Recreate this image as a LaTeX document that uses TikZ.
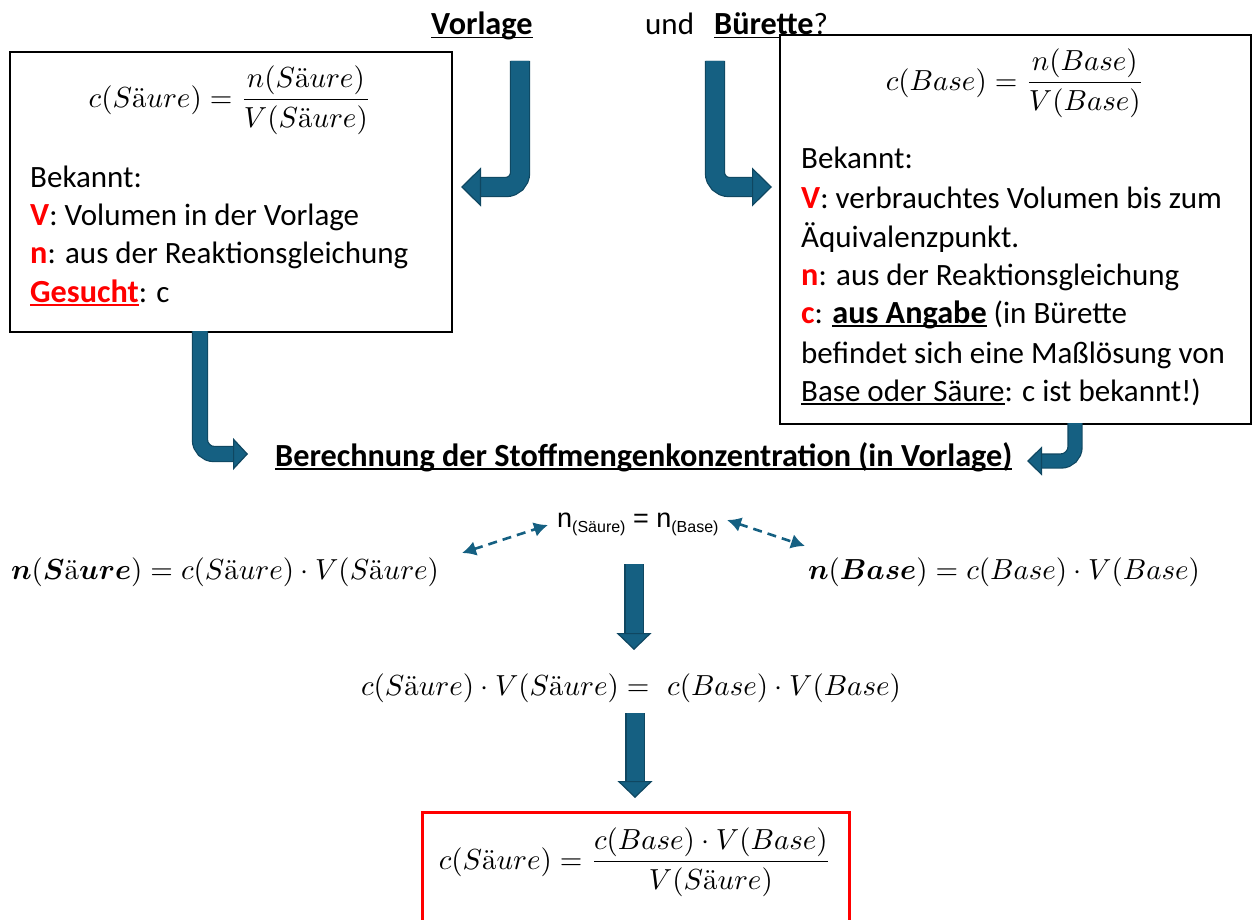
\documentclass[tikz,border=0pt]{standalone}
\usepackage{amsmath}
\usepackage{fontspec}
\newfontfamily\uisans{Carlito}[BoldFeatures={Scale=1.04}]
\newfontfamily\arialfont{Liberation Sans}
\usetikzlibrary{arrows.meta,calc}
\definecolor{flowblue}{HTML}{156082}
\definecolor{flowdark}{HTML}{0F4761}
\definecolor{hired}{HTML}{FF0000}
\newcommand\saeure{S\text{ä}ure}
\newcommand\keyletter[1]{\textcolor{hired}{\textbf{#1}}}
% underline at a fixed depth below the baseline
\newsavebox\ulbox
\newcommand\uln[1]{\sbox\ulbox{#1}\leavevmode\rlap{\usebox\ulbox}\rule[-3.5pt]{\wd\ulbox}{1.8pt}}
% formulas are set at 10pt and enlarged
\newcommand\bigmath[1]{\scalebox{2.9}{$#1$}}
\tikzset{
  box/.style={draw=black, line width=2pt, fill=white, inner sep=0pt, anchor=north west},
  resultbox/.style={draw=hired, line width=2.6pt, fill=white, inner sep=0pt, anchor=north west},
  txt/.style={font=\uisans\fontsize{31}{37}\selectfont, inner sep=0pt, anchor=base west},
  mth/.style={font=\fontsize{10}{12}\selectfont, inner sep=0pt},
  flow/.style n args={3}{draw=flowblue, line width=#1, rounded corners=14pt,
    -{Triangle[width=#2,length=#3,line width=1.2pt,color=flowdark,fill=flowblue]},
    preaction={draw=flowdark, line width=#1+2.4pt, arrows=-, shorten >=#3-0.6pt}},
  link/.style={draw=flowblue, line width=2.6pt, dash pattern=on 9pt off 6pt,
    {Latex[width=15pt,length=14pt]}-{Latex[width=15pt,length=14pt]}},
}
\begin{document}
\begin{tikzpicture}[x=1pt,y=-1pt]
\useasboundingbox (0,0) rectangle (1252,920);

% heading
\node[txt] (vorlage) at (431,35) {\uln{\textbf{Vorlage}}};
\node[txt] (und) at (645,35) {und};
\node[txt] (buerette) at (714,35) {\uln{\textbf{Bürette}}?};

% left box: the analyte in the flask
\node[box, minimum width=442pt, minimum height=280pt] (lbox) at (9,51) {};
\node[mth] (lform) at (230,100) {\bigmath{\displaystyle c(\saeure)=\frac{n(\saeure)}{V(\saeure)}}};
\node[txt] (lk) at (30,187) {Bekannt:};
\node[txt] (lv) at (30,225) {\keyletter{V}: Volumen in der Vorlage};
\node[txt] (ln) at (30,263) {\keyletter{n}: aus der Reaktionsgleichung};
\node[txt] (lg) at (30,302) {\textcolor{hired}{\uln{\textbf{Gesucht}}}: c};

% right box: the titrant in the burette
\node[box, minimum width=471pt, minimum height=389pt] (rbox) at (779,34) {};
\node[mth] (rform) at (1015,83) {\bigmath{\displaystyle c(Base)=\frac{n(Base)}{V(Base)}}};
\node[txt] (rk) at (801,169) {Bekannt:};
\node[txt] (rv) at (801,208) {\keyletter{V}: verbrauchtes Volumen bis zum};
\node[txt] (rv2) at (801,247) {Äquivalenzpunkt.};
\node[txt] (rn) at (801,285) {\keyletter{n}: aus der Reaktionsgleichung};
\node[txt] (rc) at (801,323) {\keyletter{c}: \uln{\textbf{aus Angabe}} (in Bürette};
\node[txt] (rc2) at (801,363) {befindet sich eine Maßlösung von};
\node[txt] (rc3) at (801,401) {\uln{Base oder Säure}: c ist bekannt!)};

% bent arrows from the heading into the boxes
\coordinate (a1s) at (520,61);  \coordinate (a1e) at (461,187);
\coordinate (a2s) at (715,61);  \coordinate (a2e) at (772,187);
\draw[flow={18pt}{39pt}{20pt}] (a1s) |- (a1e);
\draw[flow={18pt}{39pt}{20pt}] (a2s) |- (a2e);

% calculation heading
\node[txt] (calc) at (275,466) {\uln{\textbf{Berechnung der Stoffmengenkonzentration (in Vorlage)}}};
\coordinate (a3s) at (200,331); \coordinate (a3e) at (248,454);
\coordinate (a4s) at (1075,423); \coordinate (a4e) at (1027,461);
\draw[flow={14pt}{32pt}{15pt}] (a3s) |- (a3e);
\draw[flow={13pt}{29pt}{15pt}] (a4s) |- (a4e);

% equal amounts of substance
\node[inner sep=0pt, anchor=base west, font=\arialfont\fontsize{27}{32}\selectfont] (neq) at (557,527)
  {n{\fontsize{16}{18}\selectfont\raisebox{-5pt}{(Säure)}} = n{\fontsize{16}{18}\selectfont\raisebox{-5pt}{(Base)}}};
\node[mth] (nsa) at (225,572) {\bigmath{\boldsymbol{n}(\boldsymbol{S}\text{ä}\boldsymbol{ure})=c(\saeure)\cdot V(\saeure)}};
\node[mth] (nba) at (1004,572) {\bigmath{\boldsymbol{n}(\boldsymbol{Base})=c(Base)\cdot V(Base)}};
\coordinate (l1a) at (462,553); \coordinate (l1b) at (548,525);
\coordinate (l2a) at (727,520); \coordinate (l2b) at (805,546);
\draw[link] (l1a) -- (l1b);
\draw[link] (l2a) -- (l2b);

% combined equation and result
\node[mth] (comb) at (631,688) {\bigmath{c(\saeure)\cdot V(\saeure)=\ c(Base)\cdot V(Base)}};
\coordinate (a5s) at (634,564); \coordinate (a5e) at (634,650);
\coordinate (a6s) at (635,713); \coordinate (a6e) at (635,798);
\draw[flow={17pt}{35pt}{17pt}] (a5s) -- (a5e);
\draw[flow={17pt}{35pt}{17pt}] (a6s) -- (a6e);

\node[resultbox, minimum width=427pt, minimum height=116pt] (res) at (421,811) {};
\node[mth] (rform2) at (635,862) {\bigmath{\displaystyle c(\saeure)=\frac{c(Base)\cdot V(Base)}{V(\saeure)}}};
\end{tikzpicture}
\end{document}
